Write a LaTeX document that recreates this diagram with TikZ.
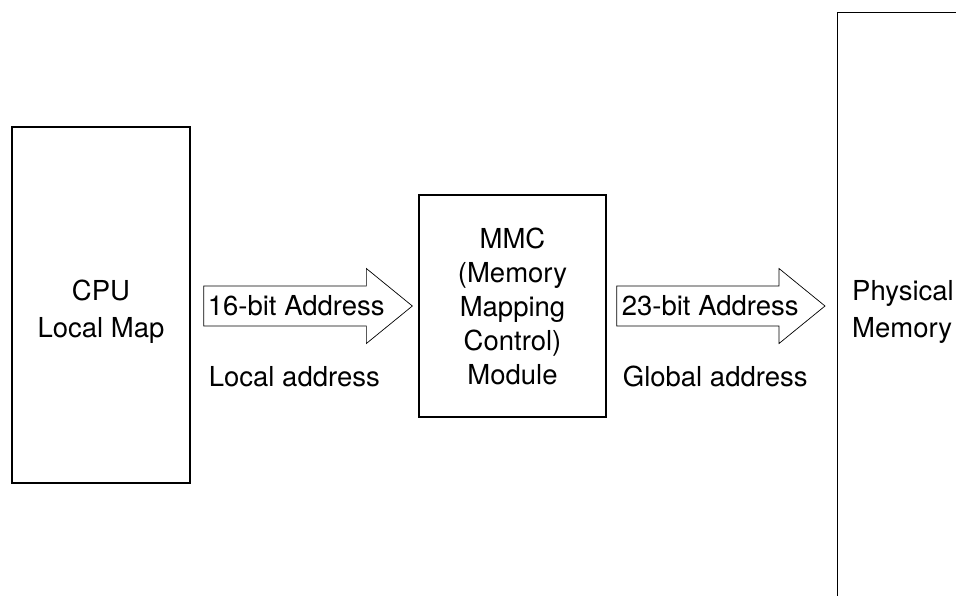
\documentclass[tikz,border=0pt]{standalone}
\usepackage{fontspec}
\setmainfont{TeX Gyre Heros}
\usetikzlibrary{calc, positioning}

\tikzset{
  block/.style={draw, line width=1.3pt, inner sep=0pt},
  txt/.style={inner sep=0pt, align=center, font=\fontsize{27.5}{36.5}\selectfont},
  fatarrow/.style={draw, line width=0.7pt, line join=miter},
}

% hollow block arrow from tail #1 to tip #2
\newcommand{\blockarrow}[2]{%
  \draw[fatarrow] ($(#1)+(0,-20)$) -- ($(#2)+(-46,-20)$) -- ($(#2)+(-46,-37.5)$)
    -- (#2) -- ($(#2)+(-46,37.5)$) -- ($(#2)+(-46,20)$) -- ($(#1)+(0,20)$) -- cycle;}

\begin{document}
\begin{tikzpicture}[x=1pt, y=-1pt]
    \useasboundingbox (0,0) rectangle (956,595);
    \clip (0,0) rectangle (956,595);

    \node[block, minimum width=178, minimum height=356] (cpu) at (101,305) {};
    \node[block, minimum width=187, minimum height=222] (mmc) at (512.5,306) {};
    \node[block, anchor=north west, minimum width=220, minimum height=640] (phys) at (837,12) {};

    \node[txt] (cputxt) at ($(cpu)+(0,6.5)$) {CPU\\Local Map};
    \node[txt, font=\fontsize{27.5}{34}\selectfont] (mmctxt) at (mmc) {MMC\\(Memory\\Mapping\\Control)\\Module};
    \node[txt, align=left, anchor=west] (phystxt) at ($(phys.west |- mmc)+(15,6)$) {Physical\\Memory};

    \coordinate (t1) at ($(cpu.east |- mmc.west)+(13,0)$);
    \coordinate (h1) at ($(mmc.west)+(-6,0)$);
    \coordinate (t2) at ($(mmc.east)+(10,0)$);
    \coordinate (h2) at ($(phys.west |- mmc.east)+(-12,0)$);

    \blockarrow{t1}{h1}
    \blockarrow{t2}{h2}

    \node[txt, anchor=base west] (a16) at ($(t1)+(4,9)$) {16-bit Address};
    \node[txt, anchor=base west] (a23) at ($(t2)+(5,9)$) {23-bit Address};
    \node[txt, anchor=base west] (loc) at ($(t1)+(5,80)$) {Local address};
    \node[txt, anchor=base west] (glob) at ($(t2)+(6,80)$) {Global address};
\end{tikzpicture}
\end{document}
